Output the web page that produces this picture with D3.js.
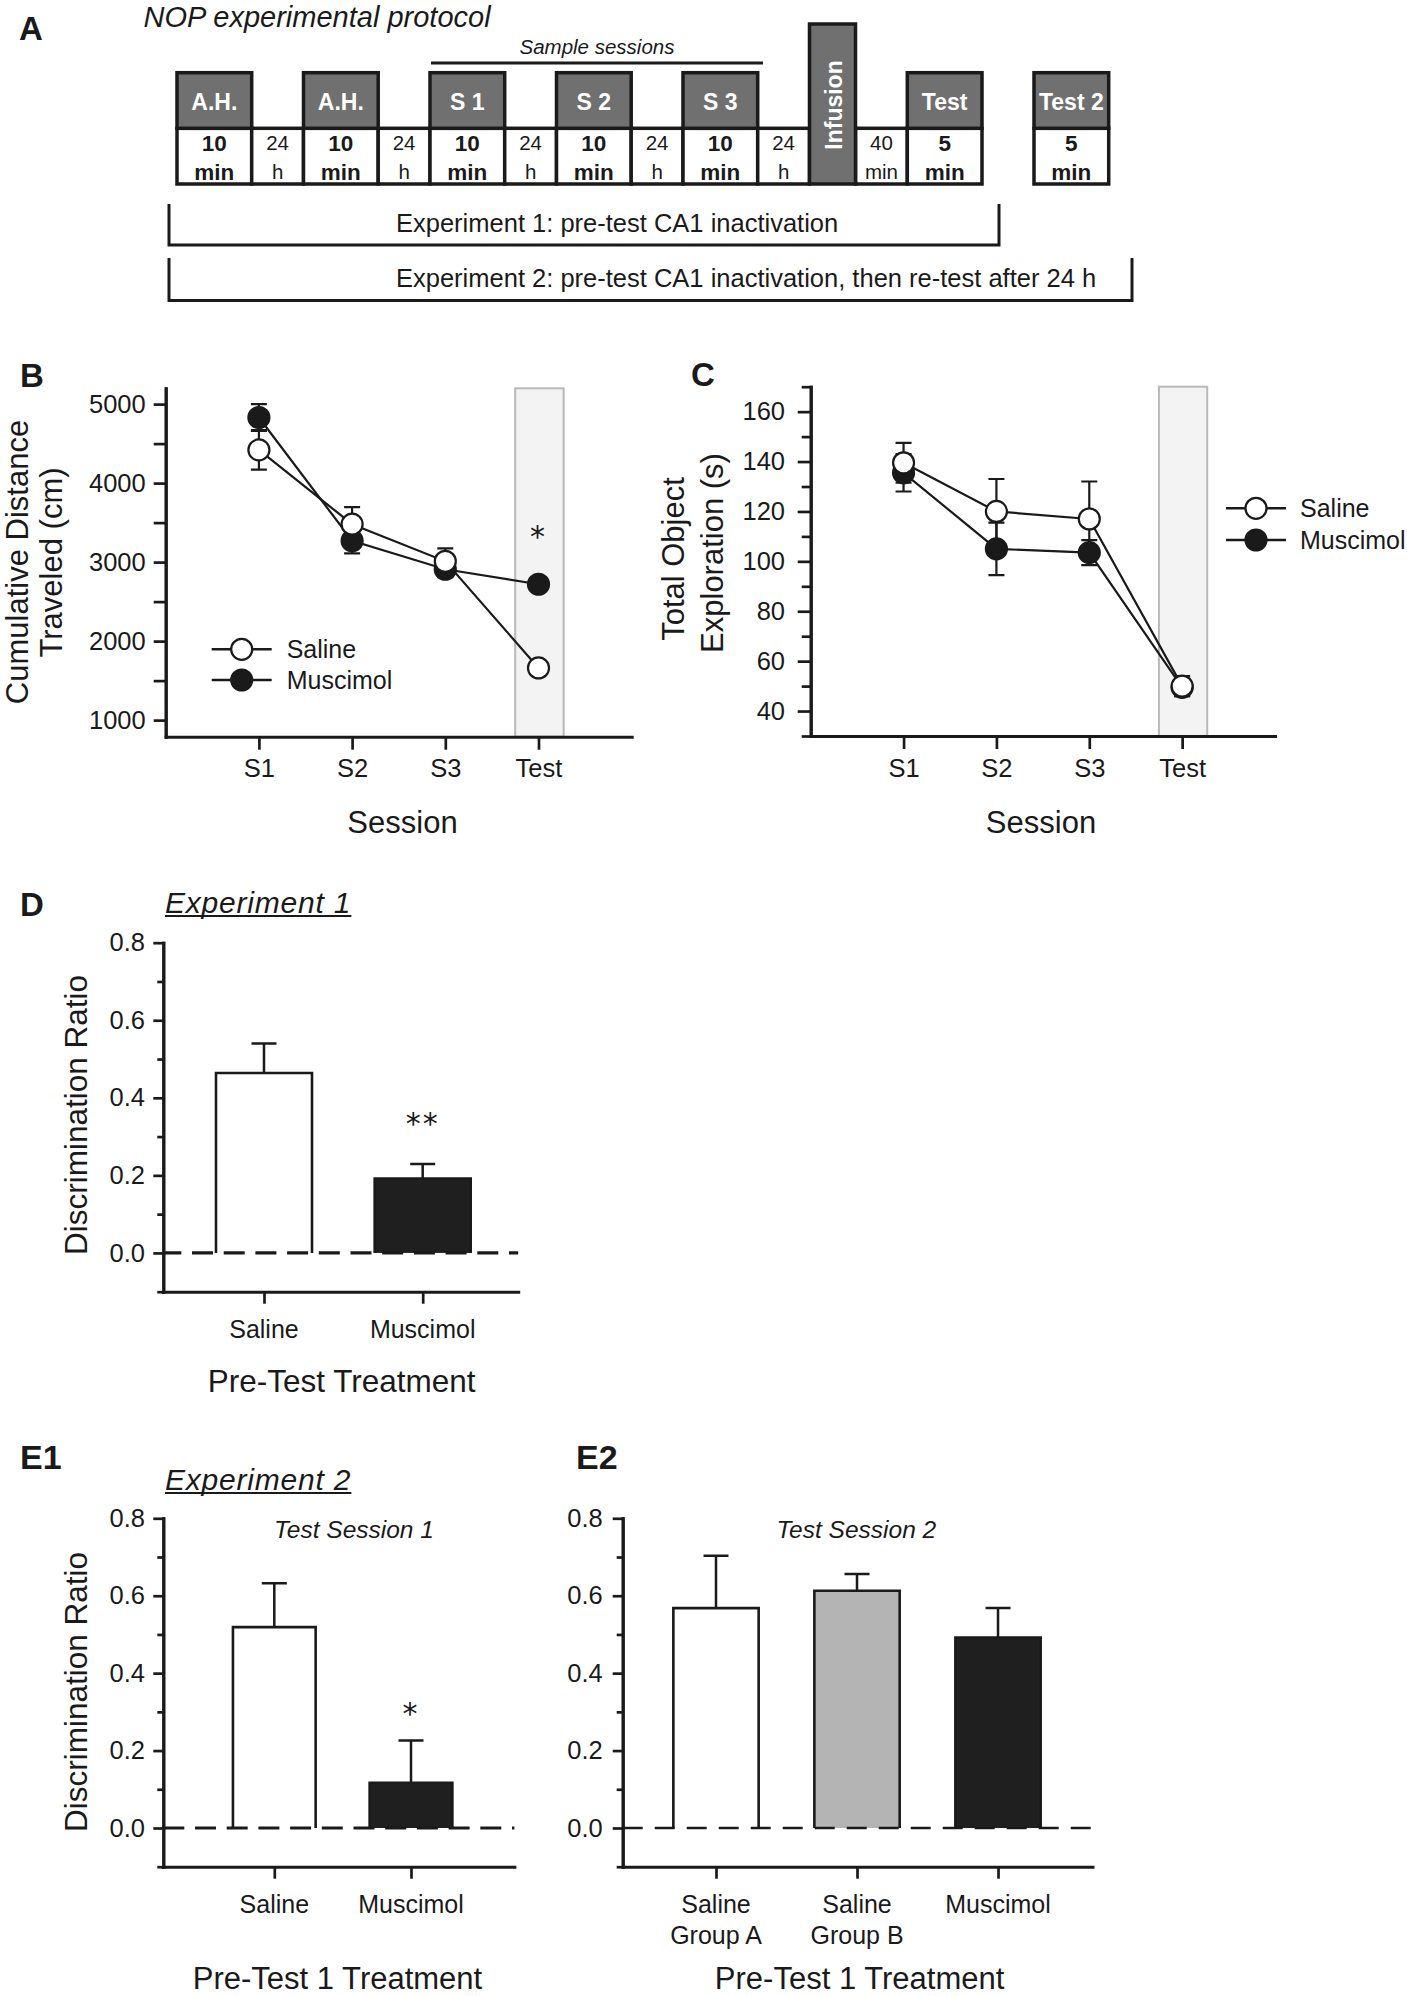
<!DOCTYPE html>
<html><head><meta charset="utf-8">
<script src="https://cdn.jsdelivr.net/npm/d3@7"></script>
<style>
body{margin:0;background:#fff;}
svg{display:block;background:#fff;}
</style></head><body>
<svg id="fig" width="1407" height="1996"></svg>
<script>
// ================= DATA =================
// Panel A protocol
const protocolKinds = ["session","gap","session","gap","session","gap","session","gap","session","gap","infusion","gap","session","spacer","session"];
const protocolHeads = ["A.H.","","A.H.","","S 1","","S 2","","S 3","","Infusion","","Test","","Test 2"];
const protocolLine1 = ["10","24","10","24","10","24","10","24","10","24","","40","5","","5"];
const protocolLine2 = ["min","h","min","h","min","h","min","h","min","h","","min","min","","min"];

// Panels B & C
const sessions = ["S1","S2","S3","Test"];
const distSaline = [4420, 3480, 3010, 1660];
const distSalineSem = [250, 215, 165, 50];
const distMuscimol = [4830, 3270, 2910, 2720];
const distMuscimolSem = [170, 160, 100, 60];
const distTicks = [1000, 2000, 3000, 4000, 5000];
const distMinorTicks = [1500, 2500, 3500, 4500];

const explSaline = [139.5, 120, 117, 50];
const explSalineSem = [8, 13, 15, 4];
const explMuscimol = [135.5, 105, 103.5, 49.5];
const explMuscimolSem = [7.5, 10.5, 5, 3.5];
const explTicks = [40, 60, 80, 100, 120, 140, 160];
const explMinorTicks = [30, 50, 70, 90, 110, 130, 150, 170];

// Panels D, E1, E2
const ratioTicks = [0, 0.2, 0.4, 0.6, 0.8];
const ratioMinorTicks = [-0.1, 0.1, 0.3, 0.5, 0.7];
const exp1Groups = ["Saline", "Muscimol"];
const exp1Means = [0.464, 0.192];
const exp1Sems = [0.076, 0.037];
const exp2T1Groups = ["Saline", "Muscimol"];
const exp2T1Means = [0.519, 0.117];
const exp2T1Sems = [0.113, 0.109];
const exp2T2Groups = [["Saline", "Group A"], ["Saline", "Group B"], ["Muscimol"]];
const exp2T2Means = [0.568, 0.613, 0.492];
const exp2T2Sems = [0.135, 0.043, 0.076];

// ================= DRAWING =================
const FONT = '"Liberation Sans", Arial, Helvetica, sans-serif';
const INK = "#1a1a1a";
const svg = d3.select("#fig");

function txt(g, x, y, s, o = {}) {
  const t = g.append("text").attr("x", x).attr("y", y).text(s)
    .attr("font-size", o.size || 25).attr("font-family", o.family || FONT)
    .attr("text-anchor", o.anchor || "start").attr("fill", o.fill || INK);
  if (o.weight) t.attr("font-weight", o.weight);
  if (o.italic) t.attr("font-style", "italic");
  if (o.ls) t.attr("letter-spacing", o.ls);
  return t;
}
function vtxt(g, x, y, s, size) {
  return g.append("text").attr("transform", `translate(${x},${y}) rotate(-90)`)
    .attr("text-anchor", "middle").attr("font-size", size).attr("font-family", FONT)
    .attr("fill", INK).text(s);
}
function styleAxis(g, fs, sw) {
  g.attr("font-family", FONT).attr("color", INK);
  g.select(".domain").attr("stroke-width", sw).attr("stroke-linecap", "square");
  g.selectAll(".tick line").attr("stroke-width", sw * 0.9);
  g.selectAll(".tick text").attr("font-size", fs);
}
function star(g, x, cy, s) {
  const fs = 30;
  g.append("text").attr("x", x).attr("y", cy + fs * 0.43).attr("text-anchor", "middle")
    .attr("font-family", '"DejaVu Sans", sans-serif').attr("font-size", fs)
    .attr("letter-spacing", 2).attr("fill", INK).text(s);
}

// ---------- Panel A ----------
(function () {
  const g = svg.append("g");
  txt(g, 19, 40, "A", { size: 33, weight: "bold" });
  txt(g, 143.5, 26.5, "NOP experimental protocol", { size: 29, italic: true });
  txt(g, 597, 53.5, "Sample sessions", { size: 20.5, italic: true, anchor: "middle" });
  g.append("line").attr("x1", 431).attr("x2", 763).attr("y1", 63).attr("y2", 63)
    .attr("stroke", INK).attr("stroke-width", 3);

  const widths = { session: 74.7, gap: 51.8, infusion: 46, spacer: 52 };
  const yTop = 72.7, yMid = 128.3, yBot = 184, yInf = 24;
  let xs = [], cur = 177;
  protocolKinds.forEach(k => { xs.push(cur); cur += widths[k]; });
  const SW = 3.5, GRAY = "#707070";
  protocolKinds.forEach((k, i) => {
    if (k === "session" || k === "gap") {
      g.append("rect").attr("x", xs[i]).attr("y", yMid).attr("width", widths[k]).attr("height", yBot - yMid)
        .attr("fill", "#fff").attr("stroke", INK).attr("stroke-width", SW);
    }
  });
  protocolKinds.forEach((k, i) => {
    const w = widths[k], cx = xs[i] + w / 2;
    if (k === "session") {
      g.append("rect").attr("x", xs[i]).attr("y", yTop).attr("width", w).attr("height", yMid - yTop)
        .attr("fill", GRAY).attr("stroke", INK).attr("stroke-width", SW);
      txt(g, cx, 110, protocolHeads[i], { size: 23, weight: "bold", anchor: "middle", fill: "#fff" });
      txt(g, cx, 151, protocolLine1[i], { size: 22.5, weight: "bold", anchor: "middle" });
      txt(g, cx, 180, protocolLine2[i], { size: 22.5, weight: "bold", anchor: "middle" });
    } else if (k === "gap") {
      txt(g, cx, 150, protocolLine1[i], { size: 20.5, anchor: "middle" });
      txt(g, cx, 178.5, protocolLine2[i], { size: 20.5, anchor: "middle" });
    } else if (k === "infusion") {
      g.append("rect").attr("x", xs[i]).attr("y", yInf).attr("width", w).attr("height", yBot - yInf)
        .attr("fill", GRAY).attr("stroke", INK).attr("stroke-width", SW);
      g.append("text").attr("transform", `translate(${cx + 9},${105}) rotate(-90)`)
        .attr("text-anchor", "middle").attr("font-size", 23).attr("font-weight", "bold")
        .attr("font-family", FONT).attr("fill", "#fff").text(protocolHeads[i]);
    }
  });
  g.append("path").attr("d", "M169,204V245H999V204").attr("fill", "none").attr("stroke", INK).attr("stroke-width", 3);
  g.append("path").attr("d", "M169,258V300.5H1132V258").attr("fill", "none").attr("stroke", INK).attr("stroke-width", 3);
  txt(g, 396, 232, "Experiment 1: pre-test CA1 inactivation", { size: 25.5 });
  txt(g, 396, 287, "Experiment 2: pre-test CA1 inactivation, then re-test after 24 h", { size: 25.5 });
})();

// ---------- Line panels B & C ----------
function linePanel(o) {
  const g = svg.append("g");
  const x = d3.scaleLinear().domain([0, sessions.length + 1]).range([o.x0, o.x1]);
  const y = d3.scaleLinear().domain(o.domain).range([o.yBot, o.yTop]);
  const ti = sessions.length;
  g.append("rect").attr("x", x(ti - 0.25)).attr("width", x(ti + 0.27) - x(ti - 0.25))
    .attr("y", o.yTop).attr("height", o.yBot - o.yTop)
    .attr("fill", "#f3f3f3").attr("stroke", "#b8b8b8").attr("stroke-width", 2);
  const minor = g.append("g").attr("transform", `translate(${o.x0},0)`)
    .call(d3.axisLeft(y).tickValues(o.minor).tickSize(o.minorLen).tickSizeOuter(0).tickFormat(""));
  styleAxis(minor, 25.5, 3);
  const major = g.append("g").attr("transform", `translate(${o.x0},0)`)
    .call(d3.axisLeft(y).tickValues(o.ticks).tickSize(o.majorLen).tickSizeOuter(0).tickPadding(o.pad).tickFormat(d3.format("d")));
  styleAxis(major, 25.5, 3);
  const xa = g.append("g").attr("transform", `translate(0,${o.yBot})`)
    .call(d3.axisBottom(x).tickValues(d3.range(1, sessions.length + 1)).tickSize(13).tickSizeOuter(0)
      .tickPadding(9.5).tickFormat(i => sessions[i - 1]));
  styleAxis(xa, 25.5, 3);
  const series = [
    { v: o.mus, s: o.musSem, fill: INK },
    { v: o.sal, s: o.salSem, fill: "#fff" }
  ];
  const line = d3.line().x((d, i) => x(i + 1)).y(d => y(d));
  series.forEach(se => g.append("path").attr("d", line(se.v)).attr("fill", "none")
    .attr("stroke", INK).attr("stroke-width", 2.2));
  series.forEach(se => {
    se.v.forEach((v, i) => {
      const cx = x(i + 1), y1 = y(v - se.s[i]), y2 = y(v + se.s[i]);
      g.append("path").attr("d", `M${cx},${y1}V${y2}M${cx - 8},${y1}H${cx + 8}M${cx - 8},${y2}H${cx + 8}`)
        .attr("stroke", INK).attr("stroke-width", 2.2).attr("fill", "none");
    });
  });
  series.forEach(se => {
    se.v.forEach((v, i) => g.append("circle").attr("cx", x(i + 1)).attr("cy", y(v)).attr("r", 10.5)
      .attr("fill", se.fill).attr("stroke", INK).attr("stroke-width", 2.2));
  });
  const L = o.legend;
  [{ y: L.y1, fill: "#fff", t: "Saline" }, { y: L.y2, fill: INK, t: "Muscimol" }].forEach(it => {
    g.append("line").attr("x1", L.cx - L.half).attr("x2", L.cx + L.half).attr("y1", it.y).attr("y2", it.y)
      .attr("stroke", INK).attr("stroke-width", 2.5);
    g.append("circle").attr("cx", L.cx).attr("cy", it.y).attr("r", 10.5).attr("fill", it.fill)
      .attr("stroke", INK).attr("stroke-width", 2.2);
    txt(g, L.tx, it.y + 9, it.t, { size: 25 });
  });
  o.ylabel.lines.forEach((s, k) => vtxt(g, o.ylabel.xs[k], o.ylabel.cy[k], s, 31));
  txt(g, o.xlabel.cx, o.xlabel.y, "Session", { size: 31, anchor: "middle" });
  txt(g, o.tag.x, o.tag.y, o.tag.t, { size: 33, weight: "bold" });
  if (o.star) star(g, x(o.star.i + 1), o.star.cy, "*");
}

linePanel({
  x0: 165.7, x1: 631.7, yTop: 388.3, yBot: 736.7, domain: [790, 5200],
  ticks: distTicks, minor: distMinorTicks, majorLen: 12, minorLen: 12, pad: 8,
  sal: distSaline, salSem: distSalineSem, mus: distMuscimol, musSem: distMuscimolSem,
  legend: { cx: 241.7, half: 30, y1: 649.3, y2: 680, tx: 286.7 },
  ylabel: { lines: ["Cumulative Distance", "Traveled (cm)"], xs: [28, 62], cy: [562, 562.5] },
  xlabel: { cx: 402.5, y: 833.3 },
  tag: { x: 20, y: 387, t: "B" },
  star: { i: 3, cy: 534 }
});
linePanel({
  x0: 810.7, x1: 1275, yTop: 386.7, yBot: 736, domain: [30, 170],
  ticks: explTicks, minor: explMinorTicks, majorLen: 13, minorLen: 9, pad: 12.7,
  sal: explSaline, salSem: explSalineSem, mus: explMuscimol, musSem: explMuscimolSem,
  legend: { cx: 1256, half: 30, y1: 508.3, y2: 540, tx: 1300 },
  ylabel: { lines: ["Total Object", "Exploration (s)"], xs: [684, 723], cy: [559, 553] },
  xlabel: { cx: 1041, y: 832.7 },
  tag: { x: 691, y: 386, t: "C" }
});

// ---------- Bar panels D, E1, E2 ----------
function barPanel(o) {
  const g = svg.append("g");
  const n = o.groups.length;
  const x = d3.scaleLinear().domain(o.xDomain).range([o.x0, o.x1]);
  const y = d3.scaleLinear().domain([-0.1, 0.8]).range([o.yBot, o.yTop]);
  const bw = (x(1) - x(0)) * 0.605;
  const minor = g.append("g").attr("transform", `translate(${o.x0},0)`)
    .call(d3.axisLeft(y).tickValues(ratioMinorTicks).tickSize(6).tickSizeOuter(0).tickFormat(""));
  styleAxis(minor, 25.5, 3);
  const major = g.append("g").attr("transform", `translate(${o.x0},0)`)
    .call(d3.axisLeft(y).tickValues(ratioTicks).tickSize(10).tickSizeOuter(0).tickPadding(o.pad).tickFormat(d3.format(".1f")));
  styleAxis(major, 25.5, 3);
  const xa = g.append("g").attr("transform", `translate(0,${o.yBot})`)
    .call(d3.axisBottom(x).tickValues(d3.range(n)).tickSize(12).tickSizeOuter(0).tickFormat(""));
  styleAxis(xa, 25.5, 3);
  o.means.forEach((m, i) => {
    const cx = x(i), l = cx - bw / 2, r = cx + bw / 2, y0 = y(0), yt = y(m);
    g.append("rect").attr("x", l).attr("y", yt).attr("width", bw).attr("height", y0 - yt)
      .attr("fill", o.fills[i]).attr("stroke", "none");
    g.append("path").attr("d", `M${l},${y0}V${yt}H${r}V${y0}`).attr("fill", "none")
      .attr("stroke", INK).attr("stroke-width", 2.6);
    const ye = y(m + o.sems[i]);
    g.append("path").attr("d", `M${cx},${yt}V${ye}M${cx - 12.5},${ye}H${cx + 12.5}`)
      .attr("fill", "none").attr("stroke", INK).attr("stroke-width", 2.5);
  });
  g.append("line").attr("x1", o.x0).attr("x2", o.x1).attr("y1", y(0)).attr("y2", y(0))
    .attr("stroke", INK).attr("stroke-width", o.dashW).attr("stroke-dasharray", o.dash)
    .attr("stroke-dashoffset", o.dashOff);
  o.groups.forEach((lab, i) => {
    const lines = Array.isArray(lab) ? lab : [lab];
    lines.forEach((s, k) => txt(g, x(i), o.yBot + 46 + k * 31, s, { size: 25, anchor: "middle" }));
  });
  if (o.ylabel) vtxt(g, 86.7, o.ylabel.cy, "Discrimination Ratio", 31.5);
  txt(g, o.xlabel.cx, o.xlabel.y, o.xlabel.t, { size: o.xlabel.size || 31.5, anchor: "middle" });
  if (o.tag) txt(g, o.tag.x, o.tag.y, o.tag.t, { size: o.tag.size || 33, weight: "bold" });
  if (o.title) {
    const t = txt(g, o.title.x, o.title.y, o.title.t, { size: 30, italic: true, ls: 0.8 });
    const w = t.node().getComputedTextLength();
    g.append("line").attr("x1", o.title.x).attr("x2", o.title.x + w)
      .attr("y1", o.title.y + 3).attr("y2", o.title.y + 3).attr("stroke", INK).attr("stroke-width", 2);
  }
  if (o.sub) txt(g, o.sub.cx, o.sub.y, o.sub.t, { size: 24.5, italic: true, anchor: "middle" });
  (o.stars || []).forEach(s => star(g, x(s.i), s.cy, s.t));
}

barPanel({
  x0: 163.3, x1: 518.2, xDomain: [-0.6345, 1.6018], yTop: 942.7, yBot: 1291.7, pad: 8.3,
  groups: exp1Groups, means: exp1Means, sems: exp1Sems, fills: ["#ffffff", "#1f1f1f"],
  dash: "21,10.7", dashOff: 3, dashW: 3.2,
  ylabel: { cy: 1115 }, xlabel: { cx: 341.7, y: 1391.7, t: "Pre-Test Treatment" },
  tag: { x: 20, y: 916, t: "D" },
  title: { x: 165, y: 913, t: "Experiment 1" },
  stars: [{ i: 1, cy: 1121, t: "**" }]
});
barPanel({
  x0: 163.3, x1: 514.4, xDomain: [-0.812, 1.7564], yTop: 1518.3, yBot: 1866.7, pad: 8.3,
  groups: exp2T1Groups, means: exp2T1Means, sems: exp2T1Sems, fills: ["#ffffff", "#1f1f1f"],
  dash: "21,10.7", dashOff: 0, dashW: 3.2,
  ylabel: { cy: 1692 }, xlabel: { cx: 337.5, y: 1988.5, t: "Pre-Test 1 Treatment", size: 31 },
  tag: { x: 20, y: 1469, t: "E1", size: 34 },
  title: { x: 165, y: 1490, t: "Experiment 2" },
  sub: { cx: 354, y: 1538.3, t: "Test Session 1" },
  stars: [{ i: 1, cy: 1711, t: "*" }]
});
barPanel({
  x0: 622.7, x1: 1092.5, xDomain: [-0.6617, 2.670], yTop: 1518.3, yBot: 1866.7, pad: 10,
  groups: exp2T2Groups, means: exp2T2Means, sems: exp2T2Sems, fills: ["#ffffff", "#b4b4b4", "#1f1f1f"],
  dash: "20,12", dashOff: 0, dashW: 2.4,
  xlabel: { cx: 859.6, y: 1988.5, t: "Pre-Test 1 Treatment", size: 31 },
  tag: { x: 576, y: 1469, t: "E2", size: 34 },
  sub: { cx: 856.3, y: 1538.3, t: "Test Session 2" }
});
</script>
</body></html>
